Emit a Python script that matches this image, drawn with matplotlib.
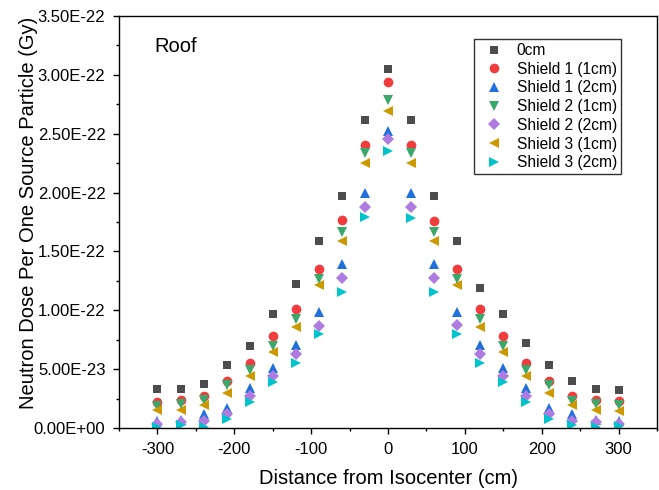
import matplotlib
matplotlib.use("Agg")
import matplotlib.pyplot as plt
from matplotlib.ticker import FixedLocator, FuncFormatter

plt.rcParams['font.family'] = ['Liberation Sans', 'DejaVu Sans']

x = [-300, -270, -240, -210, -180, -150, -120, -90, -60, -30, 0,
     30, 60, 90, 120, 150, 180, 210, 240, 270, 300]

s0 = [0.329, 0.334, 0.376, 0.533, 0.697, 0.966, 1.223, 1.591, 1.971, 2.617, 3.053,
      2.617, 1.974, 1.591, 1.187, 0.971, 0.725, 0.533, 0.399, 0.334, 0.326]
s1_1 = [0.221, 0.235, 0.274, 0.397, 0.555, 0.782, 1.011, 1.353, 1.768, 2.404, 2.942,
        2.404, 1.761, 1.353, 1.011, 0.784, 0.555, 0.399, 0.274, 0.235, 0.227]
s1_2 = [0.062, 0.068, 0.116, 0.173, 0.337, 0.510, 0.703, 0.986, 1.391, 2.000, 2.523,
        2.000, 1.391, 0.986, 0.703, 0.507, 0.337, 0.173, 0.116, 0.068, 0.062]
s2_1 = [0.190, 0.204, 0.238, 0.363, 0.493, 0.699, 0.926, 1.266, 1.668, 2.334, 2.787,
        2.334, 1.668, 1.266, 0.926, 0.699, 0.493, 0.363, 0.232, 0.204, 0.195]
s2_2 = [0.030, 0.054, 0.059, 0.116, 0.269, 0.444, 0.626, 0.869, 1.272, 1.880, 2.453,
        1.880, 1.272, 0.872, 0.626, 0.444, 0.269, 0.119, 0.057, 0.048, 0.031]
s3_1 = [0.153, 0.153, 0.195, 0.300, 0.444, 0.648, 0.856, 1.212, 1.586, 2.254, 2.693,
        2.254, 1.586, 1.212, 0.861, 0.648, 0.444, 0.300, 0.198, 0.153, 0.147]
s3_2 = [0.010, 0.023, 0.008, 0.076, 0.218, 0.388, 0.555, 0.796, 1.153, 1.790, 2.356,
        1.780, 1.153, 0.796, 0.555, 0.388, 0.218, 0.076, 0.025, 0.010, 0.020]

labels = ["0cm", "Shield 1 (1cm)", "Shield 1 (2cm)", "Shield 2 (1cm)",
          "Shield 2 (2cm)", "Shield 3 (1cm)", "Shield 3 (2cm)"]
series = [s0, s1_1, s1_2, s2_1, s2_2, s3_1, s3_2]
markers = ["s", "o", "^", "v", "D", "<", ">"]
colors = ["#4d4d4d", "#f03c3c", "#1f6fdc", "#3aa86b", "#b07be0", "#cc9900", "#00c4cc"]
sizes = [6.3, 7, 7, 7, 6, 7, 7]

xmajor = [-300, -200, -100, 0, 100, 200, 300]
xminor = [-350, -250, -150, -50, 50, 150, 250, 350]
ymajor = [0.0, 0.5e-22, 1.0e-22, 1.5e-22, 2.0e-22, 2.5e-22, 3.0e-22, 3.5e-22]
yminor = [0.25e-22, 0.75e-22, 1.25e-22, 1.75e-22, 2.25e-22, 2.75e-22, 3.25e-22]

fig = plt.figure(figsize=(6.59, 4.90), dpi=100)
ax = fig.add_axes([0.1806, 0.1265, 0.8164, 0.8408])

scale = 1e-22
for vals, m, c, lab, ms in zip(series, markers, colors, labels, sizes):
    ax.plot(x, [v * scale for v in vals], linestyle="none", marker=m,
            color=c, markersize=ms, markeredgewidth=0, label=lab)

ax.set_xlim(-350, 350)
ax.set_ylim(0, 3.5e-22)
ax.xaxis.set_major_locator(FixedLocator(xmajor))
ax.xaxis.set_minor_locator(FixedLocator(xminor))
ax.yaxis.set_major_locator(FixedLocator(ymajor))
ax.yaxis.set_minor_locator(FixedLocator(yminor))
ax.yaxis.set_major_formatter(FuncFormatter(lambda v, p: "%.2E" % v))
ax.xaxis.set_major_formatter(FuncFormatter(lambda v, p: "%d" % round(v)))
ax.tick_params(which="major", direction="out", length=4.3, width=1, labelsize=12, pad=5.5)
ax.tick_params(which="minor", direction="out", length=2.5, width=1)
for sp in ax.spines.values():
    sp.set_linewidth(1.0)

ax.set_xlabel("Distance from Isocenter (cm)", fontsize=14.5, labelpad=9)
ax.set_ylabel("Neutron Dose Per One Source Particle (Gy)", fontsize=14.5)
ax.yaxis.set_label_coords(-0.1515, 0.522)

ax.text(0.065, 0.925, "Roof", transform=ax.transAxes, fontsize=14.5,
        ha="left", va="center")

leg = ax.legend(loc="upper right", bbox_to_anchor=(0.933, 0.944), fontsize=11.2,
                frameon=True, fancybox=False, edgecolor="black",
                handletextpad=0.5, borderpad=0.25, labelspacing=0.24,
                handlelength=2.0, borderaxespad=0)
leg.get_frame().set_linewidth(1.0)

fig.savefig("out.png", dpi=100)
